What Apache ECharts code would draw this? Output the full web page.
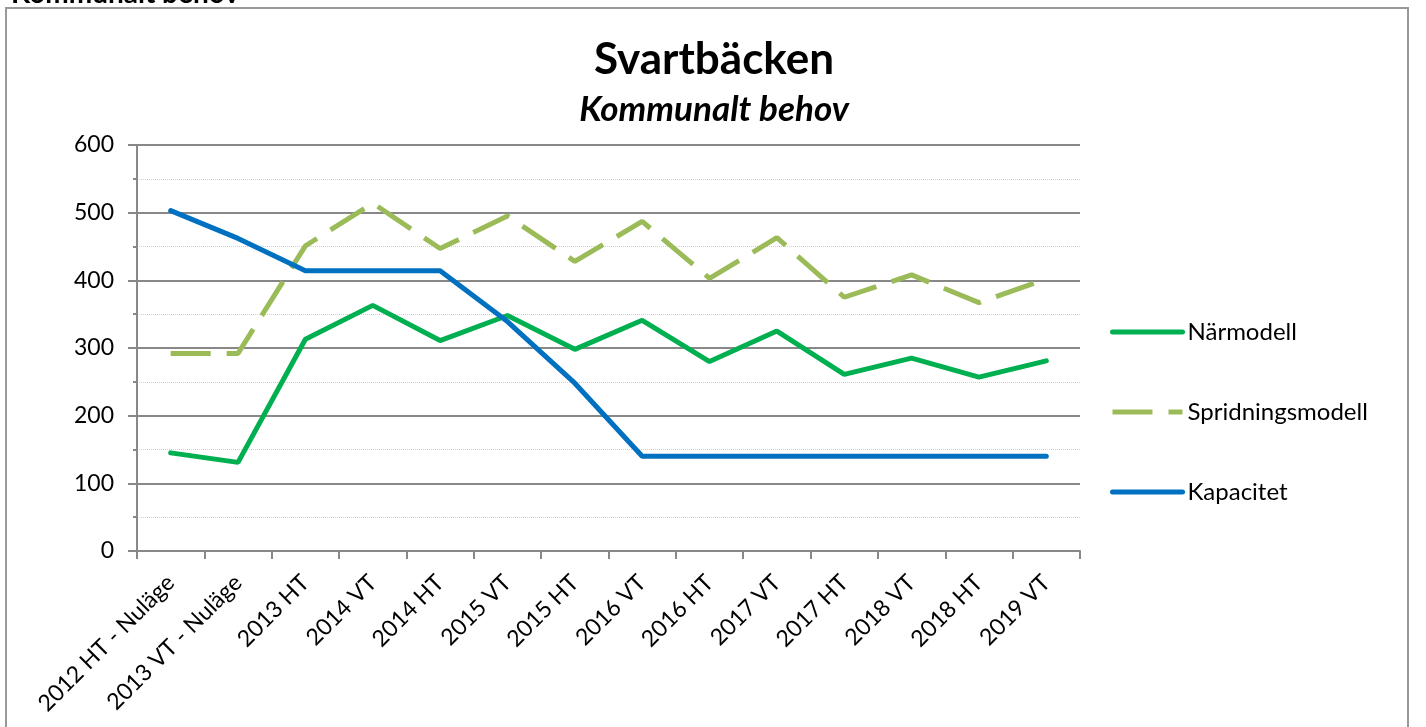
<!DOCTYPE html>
<html>
<head>
<meta charset="utf-8">
<script src="https://cdn.jsdelivr.net/npm/echarts@6/dist/echarts.min.js"></script>
<style>
  html, body { margin: 0; padding: 0; background: #fff; }
  #chart { width: 1426px; height: 727px; }
</style>
</head>
<body>
<div id="chart"></div>
<script>
// kategorier (terminer)
var terminer = ['2012 HT - Nuläge', '2013 VT - Nuläge', '2013 HT', '2014 VT', '2014 HT', '2015 VT',
  '2015 HT', '2016 VT', '2016 HT', '2017 VT', '2017 HT', '2018 VT', '2018 HT', '2019 VT'];
var narmodell = [145, 131, 313, 363, 311, 348, 298, 341, 280, 325, 261, 285, 257, 281];
var spridningsmodell = [292, 292, 451, 514, 447, 495, 428, 487, 403, 463, 375, 408, 367, 402];
var kapacitet = [503, 462, 414, 414, 414, 339, 248, 140, 140, 140, 140, 140, 140, 140];
var yTicks = [0, 100, 200, 300, 400, 500, 600];

var font = 'Lato, "Liberation Sans", sans-serif';
var chart = echarts.init(document.getElementById('chart'));

chart.setOption({
  backgroundColor: '#fff',
  animation: false,
  title: {
    text: 'Svartbäcken',
    subtext: 'Kommunalt behov',
    left: 709,
    textAlign: 'center',
    top: 33,
    itemGap: 10,
    textStyle: { fontFamily: font, fontSize: 44, fontWeight: 'bold', color: '#000' },
    subtextStyle: { fontFamily: font, fontSize: 35, fontWeight: 'bold', fontStyle: 'italic', color: '#000' }
  },
  graphic: [
    { type: 'rect', shape: { x: 6, y: 8, width: 1402, height: 740 },
      style: { fill: 'none', stroke: '#999', lineWidth: 2 }, silent: true },
    // rubrik ovanför ramen, avklippt i originalet
    { type: 'text', x: 11, y: -20, z: 10,
      style: { text: 'Kommunalt behov', font: 'bold 28px Lato', fill: '#000' } }
  ],
  legend: {
    orient: 'vertical',
    left: 1110,
    top: 320,
    padding: 0,
    itemWidth: 70,
    itemHeight: 24,
    itemGap: 56,
    lineStyle: { width: 5 },
    textStyle: { fontFamily: font, fontSize: 24, color: '#000' },
    data: ['Närmodell', 'Spridningsmodell', 'Kapacitet']
  },
  grid: { left: 137, right: 346, top: 145, bottom: 176 },
  xAxis: {
    type: 'category',
    data: terminer,
    boundaryGap: true,
    axisLine: { lineStyle: { color: '#888', width: 2 } },
    axisTick: { show: true, length: 8, lineStyle: { color: '#888', width: 2 } },
    axisLabel: { rotate: 45, margin: 28, fontFamily: font, fontSize: 23, color: '#000', interval: 0 },
    splitLine: { show: false }
  },
  yAxis: {
    type: 'value',
    min: yTicks[0],
    max: yTicks[yTicks.length - 1],
    interval: 100,
    axisLine: { show: true, lineStyle: { color: '#888', width: 2 } },
    axisTick: { show: true, length: 9, lineStyle: { color: '#888', width: 2 } },
    minorTick: { show: true, splitNumber: 2, length: 4, lineStyle: { color: '#888', width: 2 } },
    axisLabel: { margin: 23, fontFamily: font, fontSize: 23, color: '#000' },
    splitLine: { show: true, lineStyle: { color: '#888', width: 2 } },
    minorSplitLine: { show: true, lineStyle: { color: '#d0d0d0', width: 1, type: 'dotted' } }
  },
  series: [
    {
      name: 'Närmodell', type: 'line', data: narmodell, symbol: 'none',
      lineStyle: { color: '#00b050', width: 5, cap: 'round' },
      itemStyle: { color: 'rgba(0,0,0,0)' }
    },
    {
      name: 'Spridningsmodell', type: 'line', data: spridningsmodell, symbol: 'none',
      lineStyle: { color: '#9bbb59', width: 5, type: [40, 16] },
      itemStyle: { color: 'rgba(0,0,0,0)' }
    },
    {
      name: 'Kapacitet', type: 'line', data: kapacitet, symbol: 'none',
      lineStyle: { color: '#0070c0', width: 5, cap: 'round' },
      itemStyle: { color: 'rgba(0,0,0,0)' }
    }
  ]
});
</script>
</body>
</html>
